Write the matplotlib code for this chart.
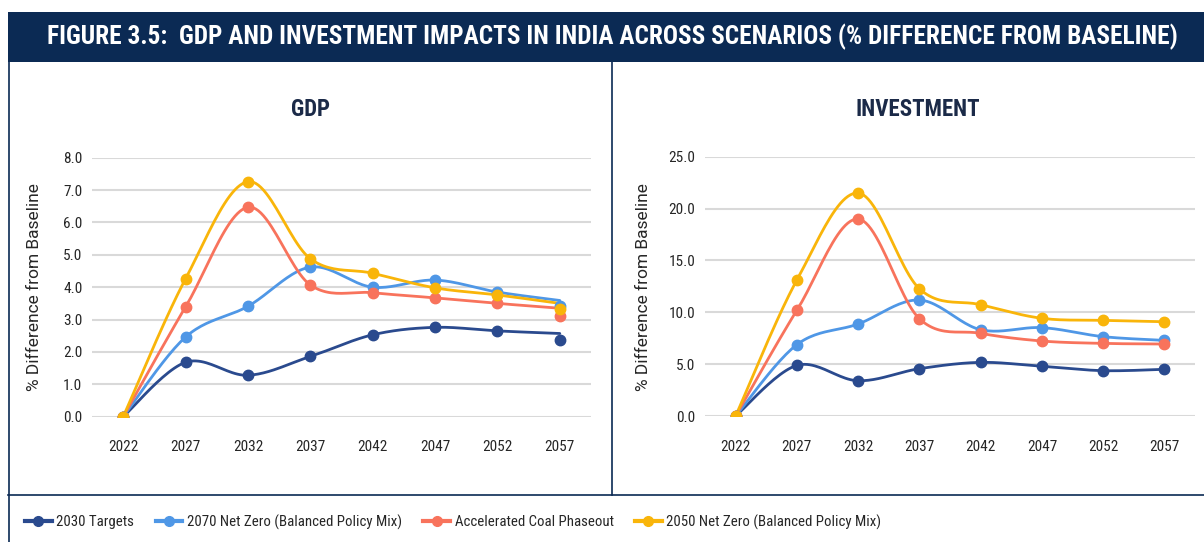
import matplotlib

matplotlib.use("Agg")
import matplotlib.pyplot as plt
import numpy as np
from matplotlib import font_manager
from matplotlib.lines import Line2D
from matplotlib.patches import Rectangle

years = ["2022", "2027", "2032", "2037", "2042", "2047", "2052", "2057"]
series_names = [
    "2030 Targets",
    "2070 Net Zero (Balanced Policy Mix)",
    "Accelerated Coal Phaseout",
    "2050 Net Zero (Balanced Policy Mix)",
]
colors = ["#2a4a8e", "#4f97e6", "#f8735c", "#f9b50a"]

# GDP, % difference from baseline (marker values)
gdp_2030 = [0.0, 1.68, 1.28, 1.86, 2.53, 2.76, 2.65, 2.37]
gdp_2070nz = [0.0, 2.46, 3.41, 4.62, 4.00, 4.22, 3.85, 3.42]
gdp_coal = [0.0, 3.39, 6.47, 4.07, 3.83, 3.67, 3.50, 3.12]
gdp_2050nz = [0.0, 4.26, 7.26, 4.88, 4.43, 3.98, 3.76, 3.32]
# in the source the smoothed lines end slightly off the 2057 markers
gdp_line_end = [2.57, 3.59, 3.35, 3.50]

# Investment, % difference from baseline
inv_2030 = [0.0, 4.88, 3.40, 4.56, 5.17, 4.79, 4.37, 4.50]
inv_2070nz = [0.0, 6.88, 8.87, 11.18, 8.32, 8.52, 7.65, 7.29]
inv_coal = [0.0, 10.19, 18.99, 9.38, 7.97, 7.23, 7.00, 6.94]
inv_2050nz = [0.0, 13.11, 21.50, 12.27, 10.73, 9.42, 9.22, 9.09]

installed = {f.name for f in font_manager.fontManager.ttflist}
NARROW = [f for f in ["Roboto Condensed", "Liberation Sans Narrow", "Roboto"] if f in installed] + ["DejaVu Sans"]
NAVY = "#0b2a54"
W, H = 1204, 542


def catmull_rom(y, n=24):
    # Excel-style smoothed line through the points
    y = np.asarray(y, dtype=float)
    x = np.arange(len(y), dtype=float)
    px = np.concatenate([[x[0]], x, [x[-1]]])
    py = np.concatenate([[y[0]], y, [y[-1]]])
    xs, ys = [], []
    t = np.linspace(0, 1, n, endpoint=False)
    for i in range(1, len(px) - 2):
        for p, out in ((px, xs), (py, ys)):
            p0, p1, p2, p3 = p[i - 1], p[i], p[i + 1], p[i + 2]
            m1 = (p2 - p0) / 2.0
            m2 = (p3 - p1) / 2.0
            h00 = 2 * t**3 - 3 * t**2 + 1
            h10 = t**3 - 2 * t**2 + t
            h01 = -2 * t**3 + 3 * t**2
            h11 = t**3 - t**2
            out.extend(h00 * p1 + h10 * m1 + h01 * p2 + h11 * m2)
    xs.append(x[-1])
    ys.append(y[-1])
    return np.array(xs), np.array(ys)


def axes_rect(x0, x1, y_top, y_bottom):
    return [x0 / W, 1 - y_bottom / H, (x1 - x0) / W, (y_bottom - y_top) / H]


def draw_panel(ax, data, line_data, ymax, step):
    x = np.arange(len(years))
    for vals, lvals, color in zip(data, line_data, colors):
        sx, sy = catmull_rom(lvals)
        ax.plot(sx, sy, color=color, lw=2.0, zorder=3, solid_capstyle="round")
        ax.plot(x, vals, "o", color=color, ms=7.5, zorder=4)
    ax.set_xlim(-0.5, len(years) - 0.5)
    ax.set_ylim(0, ymax)
    ax.set_yticks(np.arange(0, ymax + step / 2, step))
    ax.set_yticklabels([f"{v:.1f}" for v in np.arange(0, ymax + step / 2, step)])
    ax.set_xticks(x)
    ax.set_xticklabels(years)
    ax.grid(axis="y", color="#d9d9d9", lw=1.5)
    ax.set_axisbelow(True)
    for s in ax.spines.values():
        s.set_visible(False)
    ax.tick_params(axis="both", length=0, labelsize=11, labelcolor="#262626")
    ax.tick_params(axis="x", pad=17)
    ax.tick_params(axis="y", pad=7)
    for lab in ax.get_xticklabels() + ax.get_yticklabels():
        lab.set_family(NARROW)


fig = plt.figure(figsize=(W / 100, H / 100), dpi=100)

# header band and frame
fig.patches.append(Rectangle((8 / W, 1 - 62 / H), 1 - 8 / W, 50 / H, transform=fig.transFigure,
                             facecolor=NAVY, edgecolor="none"))
fig.text(612 / W, 1 - 37 / H,
         "FIGURE 3.5:  GDP AND INVESTMENT IMPACTS IN INDIA ACROSS SCENARIOS (% DIFFERENCE FROM BASELINE)",
         color="white", fontsize=18.2, fontweight="bold", family=NARROW, ha="center", va="center")
fig.lines.append(Line2D([8.5 / W, 8.5 / W], [0, 1 - 62 / H], transform=fig.transFigure, color=NAVY, lw=1.2))
fig.lines.append(Line2D([612 / W, 612 / W], [1 - 495 / H, 1 - 62 / H], transform=fig.transFigure, color=NAVY, lw=1.2))
fig.lines.append(Line2D([8 / W, 1], [1 - 495 / H, 1 - 495 / H], transform=fig.transFigure, color=NAVY, lw=1.2))

ax1 = fig.add_axes(axes_rect(92, 591, 157.7, 416.7))
ax2 = fig.add_axes(axes_rect(705, 1195, 156.7, 416.0))

gdp = [gdp_2030, gdp_2070nz, gdp_coal, gdp_2050nz]
gdp_lines = [v[:-1] + [e] for v, e in zip(gdp, gdp_line_end)]
inv = [inv_2030, inv_2070nz, inv_coal, inv_2050nz]
draw_panel(ax1, gdp, gdp_lines, 8.0, 1.0)
draw_panel(ax2, inv, inv, 25.0, 5.0)

fig.text(311 / W, 1 - 109 / H, "GDP", fontsize=16.5, fontweight="bold", family=NARROW,
         color="#1b2a48", ha="center", va="center")
fig.text(918 / W, 1 - 109 / H, "INVESTMENT", fontsize=16.5, fontweight="bold", family=NARROW,
         color="#1b2a48", ha="center", va="center")
for xp in (35, 643):
    fig.text(xp / W, 1 - 287 / H, "% Difference from Baseline", rotation=90, fontsize=12.5,
             family=["Roboto", "DejaVu Sans"], color="#262626", ha="center", va="center")

handles = [Line2D([], [], color=c, lw=3, marker="o", ms=7) for c in colors]
fig.legend(handles, series_names, loc="center left", bbox_to_anchor=(19 / W, 1 - 522 / H),
           ncol=4, frameon=False, handlelength=1.8, handletextpad=0.3, columnspacing=1.45,
           prop={"family": NARROW, "size": 10.7}, labelcolor="#262626", borderaxespad=0)

fig.savefig("out.png", dpi=100)
